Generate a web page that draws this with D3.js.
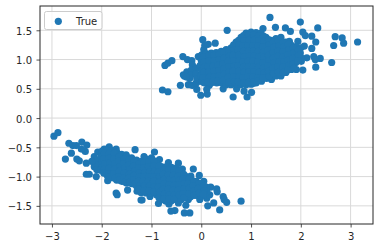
<!DOCTYPE html>
<html>
<head>
<meta charset="utf-8">
<script src="https://cdn.jsdelivr.net/npm/d3@7"></script>
<style>
  html, body { margin: 0; padding: 0; background: #fff; }
  svg { display: block; }
  text { font-family: "DejaVu Sans", sans-serif; font-size: 10px; fill: #262626; }
</style>
</head>
<body>
<div id="chart"></div>
<script>
var xTicks = [-3, -2, -1, 0, 1, 2, 3];
var yTicks = [-1.5, -1, -0.5, 0, 0.5, 1, 1.5];
var legendLabels = ["True"];

// outliers
var upperEdge = [
  [0.52,1.50],[-0.73,0.90],[-0.67,0.94],[-0.59,0.98],[-0.37,1.05],[-0.28,1.00],[-0.19,0.98],[-0.06,1.05],
  [0.03,1.34],[0.14,1.26],[0.28,1.28],[0.05,1.17],[0.07,1.24],[-0.78,0.48],[-0.67,0.45],[-0.42,0.56],
  [-0.01,0.39],[0.12,0.41],[0.64,0.36],[0.92,0.36],[1.01,0.44],[0.86,0.46],[-0.26,0.57],[-0.18,0.56],
  [-0.09,0.49],[-0.36,0.74],[-0.29,0.79],[-0.24,0.72],[-0.34,0.72],[-0.23,0.68],[-0.13,0.86],[-0.18,0.91],
  [-0.13,0.77],[-0.03,0.63],[0.16,0.56],[0.11,0.49],[0.44,0.50],[0.71,0.50],[1.04,0.59],
  [-0.2,0.82],[-0.2,0.74],[-0.3,0.7],[-0.1,0.6],
  [1.38,1.72],[1.99,1.64],[1.49,1.55],[1.24,1.53],[1.69,1.54],[1.79,1.48],[2.04,1.47],[2.09,1.41],
  [2.22,1.40],[2.34,1.54],[2.69,1.39],[2.83,1.37],[2.86,1.28],[2.66,1.24],[3.14,1.30],[2.30,1.30],
  [2.22,1.19],[2.62,0.95],[2.30,0.87],[2.04,0.82],[2.39,1.02],[2.26,1.05],[2.29,1.00],[2.12,1.03],
  [2.01,0.97],[2.07,1.23],[1.94,1.31],[1.77,1.31],[1.60,0.72],[1.41,0.66],[1.21,0.63],[1.91,0.83],[1.81,0.83]
];

// dense part of the upper cluster
var upperCore = [
  [-0.1,0.85],[-0.11,0.76],[-0.09,0.67],
  [0.01,1.08],[0.0,0.99],[-0.02,0.9],[0.01,0.81],[-0.01,0.72],[0.02,0.63],
  [0.1,1.1],[0.11,1.01],[0.09,0.92],[0.1,0.83],[0.12,0.74],[0.09,0.65],
  [0.2,1.11],[0.21,1.02],[0.19,0.93],[0.2,0.84],[0.22,0.75],[0.19,0.66],[0.2,0.6],
  [0.3,1.12],[0.31,1.03],[0.29,0.94],[0.3,0.85],[0.32,0.76],[0.29,0.67],[0.31,0.6],
  [0.4,1.14],[0.41,1.05],[0.39,0.96],[0.4,0.87],[0.42,0.78],[0.39,0.69],[0.41,0.6],
  [0.5,1.17],[0.51,1.08],[0.49,0.99],[0.5,0.9],[0.52,0.81],[0.49,0.72],[0.51,0.63],[0.5,0.57],
  [0.6,1.2],[0.61,1.11],[0.59,1.02],[0.6,0.93],[0.62,0.84],[0.59,0.75],[0.61,0.66],[0.6,0.57],
  [0.7,1.3],[0.71,1.21],[0.69,1.12],[0.7,1.03],[0.72,0.94],[0.69,0.85],[0.71,0.76],[0.7,0.67],[0.72,0.58],
  [0.8,1.38],[0.81,1.29],[0.79,1.2],[0.8,1.11],[0.82,1.02],[0.79,0.93],[0.81,0.84],[0.8,0.75],[0.82,0.66],[0.79,0.57],
  [0.9,1.45],[0.91,1.36],[0.89,1.27],[0.9,1.18],[0.92,1.09],[0.89,1.0],[0.91,0.91],[0.9,0.82],[0.92,0.73],[0.89,0.64],[0.9,0.57],
  [1.0,1.47],[1.01,1.38],[0.99,1.29],[1.0,1.2],[1.02,1.11],[0.99,1.02],[1.01,0.93],[1.0,0.84],[1.02,0.75],[0.99,0.66],[1.0,0.58],
  [1.1,1.46],[1.11,1.37],[1.09,1.28],[1.1,1.19],[1.12,1.1],[1.09,1.01],[1.11,0.92],[1.1,0.83],[1.12,0.74],[1.09,0.65],[1.1,0.6],
  [1.2,1.45],[1.21,1.36],[1.19,1.27],[1.2,1.18],[1.22,1.09],[1.19,1.0],[1.21,0.91],[1.2,0.82],[1.22,0.73],[1.19,0.65],
  [1.3,1.38],[1.31,1.29],[1.29,1.2],[1.3,1.11],[1.32,1.02],[1.29,0.93],[1.31,0.84],[1.3,0.75],[1.31,0.68],
  [1.4,1.33],[1.41,1.24],[1.39,1.15],[1.4,1.06],[1.42,0.97],[1.39,0.88],[1.41,0.79],[1.4,0.7],
  [1.5,1.36],[1.51,1.27],[1.49,1.18],[1.5,1.09],[1.52,1.0],[1.49,0.91],[1.51,0.82],[1.5,0.72],
  [1.6,1.38],[1.61,1.28],[1.59,1.18],[1.58,1.1],[1.6,0.92],[1.62,0.82],[1.6,0.74],
  [1.7,1.3],[1.71,1.21],[1.69,1.12],[1.68,1.03],[1.7,0.94],[1.72,0.85],[1.7,0.78],
  [1.8,1.25],[1.81,1.16],[1.79,1.07],[1.8,0.98],[1.82,0.89],
  [1.9,1.22],[1.91,1.13],[1.89,1.04],[1.9,0.95],
  [2.0,1.2],[1.99,1.11],[2.01,1.03]
];

// second pass over the dense part, between the first points
var upperFill = [
  [0.05,1.05],[0.05,0.96],[0.06,0.87],[0.05,0.78],[0.04,0.69],[0.06,0.6],
  [0.15,1.07],[0.16,0.98],[0.14,0.88],[0.15,0.79],[0.16,0.7],[0.14,0.62],
  [0.25,1.07],[0.26,0.98],[0.24,0.89],[0.25,0.8],[0.26,0.71],[0.24,0.63],
  [0.35,1.08],[0.36,1.0],[0.34,0.9],[0.35,0.81],[0.36,0.72],[0.34,0.64],
  [0.45,1.12],[0.46,1.02],[0.44,0.93],[0.45,0.84],[0.46,0.75],[0.44,0.65],
  [0.55,1.15],[0.56,1.06],[0.54,0.97],[0.55,0.88],[0.56,0.79],[0.54,0.7],[0.55,0.61],
  [0.65,1.25],[0.66,1.16],[0.64,1.07],[0.65,0.98],[0.66,0.89],[0.64,0.8],[0.65,0.71],[0.66,0.62],
  [0.75,1.33],[0.76,1.25],[0.74,1.16],[0.75,1.07],[0.76,0.98],[0.74,0.89],[0.75,0.8],[0.76,0.71],[0.74,0.62],
  [0.85,1.41],[0.86,1.32],[0.84,1.23],[0.85,1.14],[0.86,1.05],[0.84,0.96],[0.85,0.87],[0.86,0.78],[0.84,0.69],[0.85,0.6],
  [0.95,1.42],[0.96,1.33],[0.94,1.24],[0.95,1.15],[0.96,1.06],[0.94,0.97],[0.95,0.88],[0.96,0.79],[0.94,0.7],[0.95,0.61],
  [1.05,1.42],[1.06,1.33],[1.04,1.24],[1.05,1.15],[1.06,1.06],[1.04,0.97],[1.05,0.88],[1.06,0.79],[1.04,0.7],[1.05,0.62],
  [1.15,1.4],[1.16,1.32],[1.14,1.23],[1.15,1.14],[1.16,1.05],[1.14,0.96],[1.15,0.87],[1.16,0.78],[1.14,0.69],[1.15,0.64],
  [1.25,1.4],[1.26,1.31],[1.24,1.22],[1.25,1.13],[1.26,1.04],[1.24,0.95],[1.25,0.86],[1.26,0.77],[1.24,0.69],
  [1.35,1.34],[1.36,1.25],[1.34,1.16],[1.35,1.07],[1.36,0.98],[1.34,0.89],[1.35,0.8],[1.36,0.71],
  [1.45,1.3],[1.46,1.21],[1.44,1.12],[1.45,1.03],[1.46,0.94],[1.44,0.85],[1.45,0.76],
  [1.55,1.32],[1.56,1.23],[1.54,1.14],[1.55,1.06],[1.56,0.96],[1.54,0.87],[1.55,0.78],
  [1.65,1.3],[1.66,1.22],[1.64,1.13],[1.65,1.05],[1.66,0.96],[1.64,0.87],[1.65,0.78],
  [1.75,1.26],[1.76,1.17],[1.74,1.08],[1.75,0.99],[1.76,0.9],[1.74,0.82],
  [1.85,1.2],[1.86,1.11],[1.84,1.02],[1.85,0.93],[1.86,0.85],
  [1.95,1.16],[1.96,1.07],[1.94,0.98]
];

// outliers
var lowerEdge = [
  [-2.96,-0.31],[-2.88,-0.25],[-2.66,-0.43],[-2.73,-0.70],[-2.58,-0.47],[-2.40,-0.41],[-2.30,-0.46],[-2.51,-0.47],
  [-2.61,-0.60],[-2.50,-0.70],[-2.45,-0.73],[-2.31,-0.77],[-2.33,-0.57],[-2.41,-0.53],[-2.31,-0.96],[-2.25,-0.96],
  [-2.11,-1.00],[-2.15,-0.66],[-2.08,-0.58],[-2.15,-0.83],[-1.88,-1.07],[-1.71,-1.28],[-1.69,-1.31],[-1.48,-1.23],
  [-1.21,-1.40],[-1.33,-0.54],[-1.85,-0.49],[-1.71,-0.53],[-1.95,-0.53],[-1.51,-0.63],[-1.29,-1.25],
  [-2.1,-0.72],[-2.1,-0.8],[-2.1,-0.88],[-2.2,-0.74],
  [-0.94,-0.58],[-1.15,-0.66],[-0.84,-0.71],[-0.66,-0.76],[-0.46,-0.77],[-0.38,-0.87],[-0.16,-0.87],[-0.21,-0.99],
  [-0.04,-0.98],[0.05,-1.08],[0.19,-1.18],[0.31,-1.21],[0.32,-1.26],[0.44,-1.34],[0.46,-1.39],[0.51,-1.44],
  [0.80,-1.42],[0.37,-1.57],[0.25,-1.45],[0.13,-1.50],[-0.23,-1.62],[-0.34,-1.62],[-0.53,-1.58],[-0.61,-1.59],
  [-0.31,-1.49],[-0.46,-1.45],[-0.65,-1.47],[-0.86,-1.46],[-1.19,-1.40],[-1.03,-1.34],[-0.03,-1.39],[0.11,-1.37],
  [-0.26,-1.39],[0.17,-1.31]
];

// dense part of the lower cluster
var lowerCore = [
  [-2.0,-0.57],[-2.01,-0.66],[-1.99,-0.75],[-2.0,-0.84],[-2.02,-0.89],
  [-1.9,-0.55],[-1.91,-0.64],[-1.89,-0.73],[-1.9,-0.82],[-1.92,-0.91],[-1.89,-0.98],
  [-1.8,-0.55],[-1.81,-0.64],[-1.79,-0.73],[-1.8,-0.81],[-1.82,-0.9],[-1.79,-0.98],[-1.8,-1.02],
  [-1.7,-0.58],[-1.71,-0.67],[-1.69,-0.75],[-1.7,-0.84],[-1.72,-0.92],[-1.69,-1.0],[-1.7,-1.06],
  [-1.6,-0.62],[-1.61,-0.7],[-1.59,-0.79],[-1.6,-0.87],[-1.62,-0.96],[-1.59,-1.03],[-1.6,-1.08],
  [-1.5,-0.66],[-1.51,-0.74],[-1.49,-0.83],[-1.5,-0.9],[-1.52,-0.98],[-1.49,-1.05],[-1.5,-1.11],
  [-1.4,-0.68],[-1.41,-0.76],[-1.39,-0.85],[-1.4,-0.93],[-1.42,-1.0],[-1.39,-1.07],[-1.4,-1.12],
  [-1.3,-0.72],[-1.31,-0.8],[-1.29,-0.87],[-1.3,-0.95],[-1.32,-1.03],[-1.29,-1.1],[-1.3,-1.16],
  [-1.2,-0.74],[-1.21,-0.82],[-1.19,-0.9],[-1.2,-0.98],[-1.22,-1.05],[-1.19,-1.13],[-1.2,-1.2],[-1.21,-1.27],
  [-1.1,-0.7],[-1.11,-0.8],[-1.09,-0.88],[-1.1,-0.96],[-1.12,-1.04],[-1.09,-1.12],[-1.1,-1.2],[-1.11,-1.28],
  [-1.0,-0.68],[-1.01,-0.78],[-0.99,-0.86],[-1.0,-0.95],[-1.02,-1.03],[-0.99,-1.12],[-1.0,-1.2],[-1.01,-1.28],
  [-0.9,-0.78],[-0.91,-0.87],[-0.89,-0.96],[-0.9,-1.05],[-0.92,-1.14],[-0.89,-1.22],[-0.9,-1.31],
  [-0.8,-0.83],[-0.81,-0.92],[-0.79,-1.0],[-0.8,-1.08],[-0.82,-1.17],[-0.79,-1.25],[-0.8,-1.33],[-0.81,-1.4],
  [-0.7,-0.83],[-0.71,-0.92],[-0.69,-1.0],[-0.7,-1.09],[-0.72,-1.17],[-0.69,-1.26],[-0.7,-1.34],[-0.71,-1.42],
  [-0.6,-0.84],[-0.61,-0.93],[-0.59,-1.01],[-0.6,-1.1],[-0.62,-1.18],[-0.59,-1.27],[-0.6,-1.35],[-0.61,-1.42],
  [-0.5,-0.85],[-0.51,-0.94],[-0.49,-1.03],[-0.5,-1.11],[-0.52,-1.2],[-0.49,-1.28],[-0.5,-1.36],
  [-0.4,-0.92],[-0.41,-1.0],[-0.39,-1.08],[-0.4,-1.17],[-0.42,-1.25],[-0.39,-1.33],[-0.4,-1.39],
  [-0.3,-1.0],[-0.31,-1.08],[-0.29,-1.16],[-0.3,-1.25],[-0.32,-1.32],
  [-0.2,-1.05],[-0.21,-1.12],[-0.19,-1.2],[-0.2,-1.28],[-0.22,-1.35],
  [-0.1,-1.08],[-0.11,-1.16],[-0.09,-1.24],[-0.1,-1.32],
  [0.0,-1.12],[0.01,-1.2],[-0.01,-1.28],[0.0,-1.33],
  [0.1,-1.18],[0.11,-1.26]
];

var lowerFill = [
  [-1.95,-0.6],[-1.96,-0.7],[-1.94,-0.78],[-1.95,-0.87],[-1.96,-0.94],
  [-1.85,-0.6],[-1.86,-0.69],[-1.84,-0.77],[-1.85,-0.86],[-1.86,-0.95],[-1.84,-1.0],
  [-1.75,-0.6],[-1.76,-0.7],[-1.74,-0.78],[-1.75,-0.87],[-1.76,-0.95],[-1.74,-1.03],
  [-1.65,-0.66],[-1.66,-0.74],[-1.64,-0.83],[-1.65,-0.91],[-1.66,-1.0],[-1.64,-1.06],
  [-1.55,-0.7],[-1.56,-0.78],[-1.54,-0.86],[-1.55,-0.94],[-1.56,-1.02],[-1.54,-1.09],
  [-1.45,-0.72],[-1.46,-0.8],[-1.44,-0.88],[-1.45,-0.96],[-1.46,-1.03],[-1.44,-1.1],
  [-1.35,-0.74],[-1.36,-0.82],[-1.34,-0.9],[-1.35,-0.98],[-1.36,-1.05],[-1.34,-1.13],
  [-1.25,-0.78],[-1.26,-0.85],[-1.24,-0.93],[-1.25,-1.01],[-1.26,-1.08],[-1.24,-1.16],[-1.25,-1.22],
  [-1.15,-0.76],[-1.16,-0.85],[-1.14,-0.94],[-1.15,-1.0],[-1.16,-1.08],[-1.14,-1.16],[-1.15,-1.24],
  [-1.05,-0.75],[-1.06,-0.83],[-1.04,-0.92],[-1.05,-1.0],[-1.06,-1.08],[-1.04,-1.16],[-1.05,-1.24],
  [-0.95,-0.73],[-0.96,-0.82],[-0.94,-0.91],[-0.95,-1.0],[-0.96,-1.08],[-0.94,-1.17],[-0.95,-1.26],
  [-0.85,-0.82],[-0.86,-0.92],[-0.84,-1.0],[-0.85,-1.1],[-0.86,-1.18],[-0.84,-1.27],[-0.85,-1.36],
  [-0.75,-0.88],[-0.76,-0.96],[-0.74,-1.04],[-0.75,-1.13],[-0.76,-1.21],[-0.74,-1.3],[-0.75,-1.38],
  [-0.65,-0.88],[-0.66,-0.97],[-0.64,-1.05],[-0.65,-1.14],[-0.66,-1.22],[-0.64,-1.31],[-0.65,-1.38],
  [-0.55,-0.89],[-0.56,-0.98],[-0.54,-1.06],[-0.55,-1.15],[-0.56,-1.23],[-0.54,-1.31],[-0.55,-1.39],
  [-0.45,-0.9],[-0.46,-0.99],[-0.44,-1.06],[-0.45,-1.14],[-0.46,-1.23],[-0.44,-1.31],
  [-0.35,-0.96],[-0.36,-1.04],[-0.34,-1.12],[-0.35,-1.21],[-0.36,-1.29],[-0.34,-1.36],
  [-0.25,-1.04],[-0.26,-1.12],[-0.24,-1.2],[-0.25,-1.29],
  [-0.15,-1.08],[-0.16,-1.16],[-0.14,-1.24],[-0.15,-1.32],
  [-0.05,-1.12],[-0.06,-1.2],[-0.04,-1.28],
  [0.05,-1.16],[0.06,-1.24],[0.04,-1.3]
];

var points = upperEdge.concat(upperCore, upperFill, lowerEdge, lowerCore, lowerFill);

var width = 380,
    height = 248,
    margin = {top: 6, right: 7, bottom: 24, left: 40};

var x = d3.scaleLinear()
    .domain([-3.24, 3.45])
    .range([margin.left, width - margin.right]);

var y = d3.scaleLinear()
    .domain([-1.81, 1.915])
    .range([height - margin.bottom, margin.top]);

var svg = d3.select("#chart").append("svg")
    .attr("width", width)
    .attr("height", height);

// grid
svg.append("g").selectAll("line")
    .data(xTicks)
  .enter().append("line")
    .attr("x1", d => x(d)).attr("x2", d => x(d))
    .attr("y1", y.range()[0]).attr("y2", y.range()[1])
    .attr("stroke", "#d9d9d9").attr("stroke-width", 1);

svg.append("g").selectAll("line")
    .data(yTicks)
  .enter().append("line")
    .attr("x1", x.range()[0]).attr("x2", x.range()[1])
    .attr("y1", d => y(d)).attr("y2", d => y(d))
    .attr("stroke", "#d9d9d9").attr("stroke-width", 1);

svg.append("g").selectAll("circle")
    .data(points)
  .enter().append("circle")
    .attr("cx", d => x(d[0]))
    .attr("cy", d => y(d[1]))
    .attr("r", 3.6)
    .attr("fill", "#1f77b4");

var xAxis = d3.axisBottom(x).tickValues(xTicks).tickSize(3.5).tickPadding(5).tickFormat(d3.format("d"));
var yAxis = d3.axisLeft(y).tickValues(yTicks).tickSize(3.5).tickPadding(4.5).tickFormat(d3.format(".1f"));

svg.append("g")
    .attr("transform", "translate(0," + (height - margin.bottom) + ")")
    .call(xAxis);
svg.append("g")
    .attr("transform", "translate(" + margin.left + ",0)")
    .call(yAxis)
  .selectAll("text")
    .attr("dy", "0.4em");

svg.selectAll(".domain").remove();
svg.selectAll(".tick line").attr("stroke", "#262626").attr("stroke-width", 0.8);
svg.selectAll(".tick text").attr("fill", "#262626").style("font-size", "10px");

// frame
svg.append("rect")
    .attr("x", x.range()[0]).attr("y", y.range()[1])
    .attr("width", x.range()[1] - x.range()[0])
    .attr("height", y.range()[0] - y.range()[1])
    .attr("fill", "none")
    .attr("stroke", "#262626")
    .attr("stroke-width", 1);

// legend
var legend = svg.append("g");
legend.append("rect")
    .attr("x", 44.5).attr("y", 11.5)
    .attr("width", 57.5).attr("height", 18)
    .attr("rx", 2)
    .attr("fill", "#fff").attr("fill-opacity", 0.8)
    .attr("stroke", "#cccccc").attr("stroke-width", 1);
legend.append("circle")
    .attr("cx", 58.3).attr("cy", 21.3).attr("r", 3.6)
    .attr("fill", "#1f77b4");
legend.append("text")
    .attr("x", 76).attr("y", 24.7)
    .text(legendLabels[0]);
</script>
</body>
</html>
